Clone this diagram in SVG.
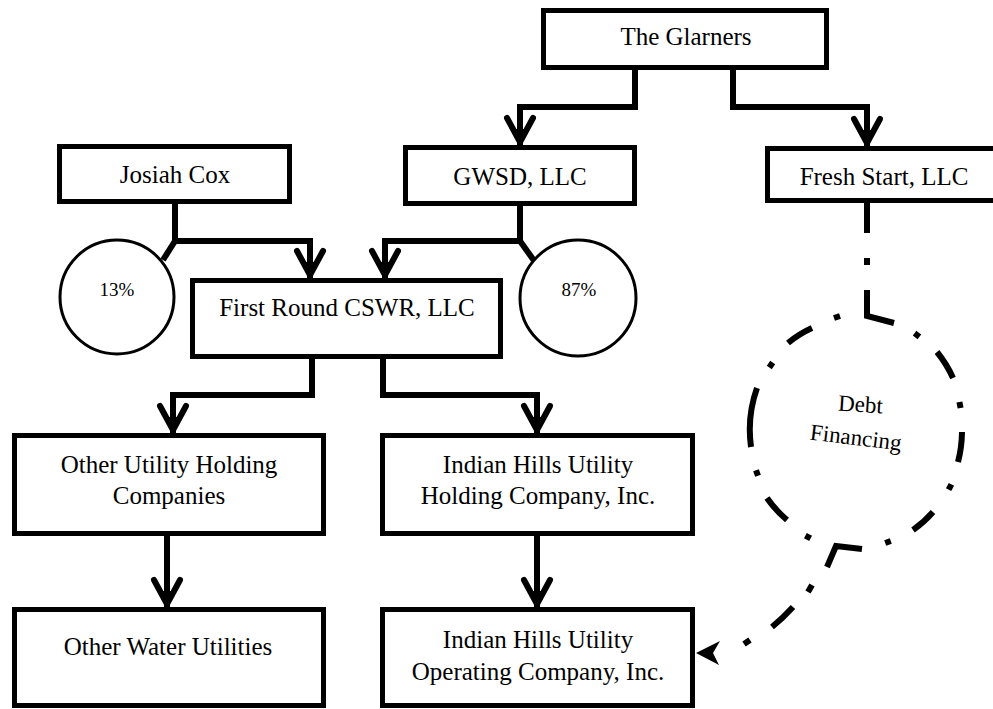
<svg xmlns="http://www.w3.org/2000/svg" width="993" height="709" viewBox="0 0 993 709">
<style>
.box{fill:#fff;stroke:#000;stroke-width:5}
.t{font-family:"Liberation Serif","Times New Roman",serif;font-size:25px;fill:#000;text-anchor:middle}
.pct{font-family:"Liberation Serif","Times New Roman",serif;font-size:19px;fill:#000;text-anchor:middle}
.conn{fill:none;stroke:#000;stroke-width:6}
.circ{fill:#fff;stroke:#000;stroke-width:3}
.dd{fill:none;stroke:#000;stroke-width:6;stroke-linecap:butt}
</style>
<defs>
<marker id="ah" markerUnits="userSpaceOnUse" viewBox="-32 -20 40 40" markerWidth="40" markerHeight="40" refX="0" refY="0" orient="auto" overflow="visible">
<path d="M-16,-8 L-3,0 L-16,8 Z" fill="#000"/>
<path d="M-27,-13 L-3,0 L-27,13" fill="none" stroke="#000" stroke-width="6" stroke-linecap="round" stroke-linejoin="round"/>
</marker>
</defs>
<rect width="993" height="709" fill="#fff"/>
<g id="connectors">
<path class="conn" d="M635,70 V107 H520 V145" marker-end="url(#ah)"/>
<path class="conn" d="M733,70 V107 H867 V146" marker-end="url(#ah)"/>
<path class="conn" d="M175,204 V241 H310 V278" marker-end="url(#ah)"/>
<path class="conn" d="M520,206 V241 H385 V278" marker-end="url(#ah)"/>
<path class="conn" d="M175,241 L163,260"/>
<path class="conn" d="M520,241 L535,262"/>
<path class="conn" d="M312,359 V395 H173 V433" marker-end="url(#ah)"/>
<path class="conn" d="M383,359 V395 H537 V433" marker-end="url(#ah)"/>
<path class="conn" d="M167,536 V607" marker-end="url(#ah)"/>
<path class="conn" d="M537,536 V607" marker-end="url(#ah)"/>
<path class="dd" d="M867,203 V233 M867,258 V265 M867,290 V316 L894,323"/>
<path class="dd" d="M862,549 L836,546 L827,567 M812,585 L808,592 M793,607 Q783,618 772,627 M750,640 L744,644"/>
<path d="M696,653 L720,641 L713,653 L719,665 Z" fill="#000"/>
</g>
<g id="debt-financing">
<path class="dd" d="M788,343 A107,116 0 0,1 812,328 M751,447 A107,116 0 0,1 757,388 M787,520 A107,116 0 0,1 767,498 M933,512 A107,116 0 0,1 913,530 M962,432 A107,116 0 0,1 958,462 M937,352 A107,116 0 0,1 953,378"/>
<path class="dd" d="M834,318 L840,316 M769.3,367.5 L772.7,362.5 M758,475.8 L756,470.2 M810.6,538.4 L805.4,535.6 M890.8,541 L885.2,543 M951.4,484.3 L948.6,489.7 M959.4,402 L960.6,408 M914.6,333.2 L919.4,336.8"/>
<text class="t" style="font-size:23px" x="860" y="412" transform="rotate(4 860 412)">Debt</text>
<text class="t" style="font-size:23px" x="855" y="445" transform="rotate(7 855 445)">Financing</text>
</g>
<g id="glarners">
<rect class="box" x="543.5" y="10.5" width="283" height="57"/>
<text class="t" x="686" y="45">The Glarners</text>
</g>
<g id="josiah-cox">
<rect class="box" x="59.5" y="146.5" width="230" height="55"/>
<text class="t" x="175" y="183">Josiah Cox</text>
</g>
<g id="gwsd">
<rect class="box" x="405.5" y="147.5" width="229" height="56"/>
<text class="t" x="520" y="185">GWSD, LLC</text>
</g>
<g id="fresh-start">
<rect class="box" x="767.5" y="148.5" width="240" height="52"/>
<text class="t" x="884" y="185">Fresh Start, LLC</text>
</g>
<g id="pct13">
<circle class="circ" cx="117" cy="297" r="57"/>
<text class="pct" x="117" y="296">13%</text>
</g>
<g id="pct87">
<circle class="circ" cx="578" cy="298" r="58"/>
<text class="pct" x="579" y="296">87%</text>
</g>
<g id="first-round">
<rect class="box" x="192.5" y="280.5" width="308" height="76"/>
<text class="t" x="347" y="316">First Round CSWR, LLC</text>
</g>
<g id="other-holding">
<rect class="box" x="14.5" y="435.5" width="309" height="98"/>
<text class="t" x="169" y="473">Other Utility Holding</text>
<text class="t" x="169" y="504">Companies</text>
</g>
<g id="indian-holding">
<rect class="box" x="382.5" y="435.5" width="310" height="98"/>
<text class="t" x="538" y="473">Indian Hills Utility</text>
<text class="t" x="538" y="504">Holding Company, Inc.</text>
</g>
<g id="other-water">
<rect class="box" x="14.5" y="609.5" width="309" height="96"/>
<text class="t" x="168" y="655">Other Water Utilities</text>
</g>
<g id="indian-operating">
<rect class="box" x="382.5" y="609.5" width="310" height="96"/>
<text class="t" x="538" y="648">Indian Hills Utility</text>
<text class="t" x="538" y="680">Operating Company, Inc.</text>
</g>
</svg>
